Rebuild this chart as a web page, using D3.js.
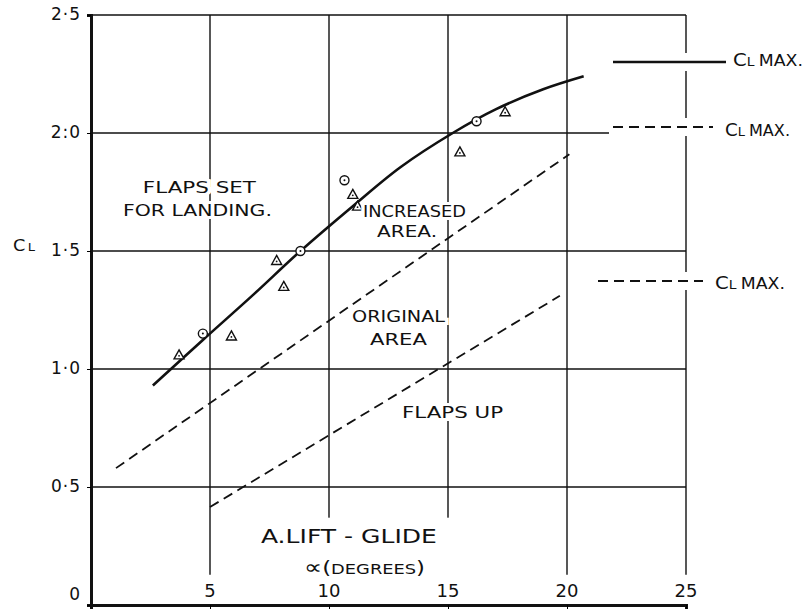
<!DOCTYPE html>
<html>
<head>
<meta charset="utf-8">
<script src="https://cdn.jsdelivr.net/npm/d3@7"></script>
<style>
  body { margin: 0; background: #fff; }
  text { font-family: "DejaVu Sans", sans-serif; fill: #111; }
</style>
</head>
<body>
<div id="chart"></div>
<script>
// tick values and labels
var xTicks = [5, 10, 15, 20, 25];
var yTicks = [0, 0.5, 1, 1.5, 2, 2.5];
var yTickLabels = ["0", "0·5", "1·0", "1·5", "2:0", "2·5"];

// flaps set for landing (solid curve)
var landingCurve = [[2.6, 0.93], [4.7, 1.123], [6.8, 1.313], [8.8, 1.5], [11, 1.69],
    [13, 1.855], [15.2, 2.0], [17, 2.1], [19, 2.185], [20.7, 2.24]];
// increased area and flaps up (dashed)
var increasedArea = [[1.05, 0.58], [20.1, 1.91]];
var flapsUp = [[5.0, 0.415], [19.7, 1.31]];
// test points
var triangles = [[3.7, 1.06], [5.9, 1.14], [7.8, 1.46], [8.1, 1.35], [11.0, 1.74],
    [11.2, 1.69], [15.5, 1.92], [17.4, 2.09]];
var circles = [[4.7, 1.15], [8.8, 1.5], [10.65, 1.8], [16.2, 2.05]];

// set the dimensions and margins of the graph
var margin = { top: 15, right: 124, bottom: 8, left: 91 },
    width = 810 - margin.left - margin.right,
    height = 613 - margin.top - margin.bottom;

var svg = d3.select("#chart")
    .append("svg")
    .attr("width", 810)
    .attr("height", 613);

var g = svg.append("g")
    .attr("transform", "translate(" + margin.left + "," + margin.top + ")");

var x = d3.scaleLinear().domain([0, 25]).range([0, width]);
var y = d3.scaleLinear().domain([0, 2.5]).range([height, 0]);

// gridlines (vertical ones stop above the tick labels)
g.selectAll(".vgrid")
    .data(xTicks)
    .enter()
    .append("line")
    .attr("x1", function (d) { return x(d) })
    .attr("x2", function (d) { return x(d) })
    .attr("y1", y(2.5))
    .attr("y2", y(0.128))
    .attr("stroke", "#111")
    .attr("stroke-width", 1.4);

g.selectAll(".hgrid")
    .data(yTicks.filter(function (d) { return d > 0 }))
    .enter()
    .append("line")
    .attr("x1", 0)
    .attr("x2", width)
    .attr("y1", function (d) { return y(d) })
    .attr("y2", function (d) { return y(d) })
    .attr("stroke", "#111")
    .attr("stroke-width", 1.4);

// blank space for the title block
g.append("rect")
    .attr("x", x(6.9))
    .attr("y", y(0.37))
    .attr("width", x(15.6) - x(6.9))
    .attr("height", y(0.1) - y(0.37))
    .attr("fill", "#fff");

// axes
var yAxis = g.append("g")
    .call(d3.axisLeft(y)
        .tickValues(yTicks)
        .tickSize(4)
        .tickPadding(6)
        .tickFormat(function (d, i) { return yTickLabels[i] }));
yAxis.select(".domain").attr("stroke-width", 3).attr("stroke", "#111");
yAxis.selectAll("text")
    .style("font-size", "17px")
    .style("letter-spacing", "1px")
    .attr("fill", "#111")
    .attr("dy", function (d) { return d === 0 ? "-0.3em" : "0.25em" });

var xAxis = g.append("g")
    .attr("transform", "translate(0," + height + ")")
    .call(d3.axisBottom(x).tickValues(xTicks).tickSize(4).tickFormat(""));
xAxis.select(".domain").attr("stroke-width", 3).attr("stroke", "#111");

// x tick labels sit inside the plot
g.selectAll(".xlab")
    .data(xTicks)
    .enter()
    .append("text")
    .attr("x", function (d) { return x(d) })
    .attr("y", height - 8)
    .attr("text-anchor", "middle")
    .style("font-size", "18px")
    .text(function (d) { return d });

// CL axis label
var cl = svg.append("text").attr("x", 13).attr("y", 251)
    .attr("textLength", 22).attr("lengthAdjust", "spacingAndGlyphs");
cl.append("tspan").style("font-size", "15px").text("C");
cl.append("tspan").style("font-size", "11px").attr("dx", 2).text("L");

// lines
var line = d3.line()
    .x(function (d) { return x(d[0]) })
    .y(function (d) { return y(d[1]) });

g.append("path")
    .datum(landingCurve)
    .attr("fill", "none")
    .attr("stroke", "#111")
    .attr("stroke-width", 2.6)
    .attr("d", line.curve(d3.curveCatmullRom));

[increasedArea, flapsUp].forEach(function (s) {
    g.append("path")
        .datum(s)
        .attr("fill", "none")
        .attr("stroke", "#111")
        .attr("stroke-width", 1.8)
        .attr("stroke-dasharray", "10,6")
        .attr("d", d3.line()
            .x(function (d) { return x(d[0]) })
            .y(function (d) { return y(d[1]) }));
});

// triangle points
var tri = g.selectAll(".tri")
    .data(triangles)
    .enter()
    .append("g")
    .attr("transform", function (d) { return "translate(" + x(d[0]) + "," + y(d[1]) + ")" });
tri.append("path")
    .attr("d", "M0,-5L5,4L-5,4Z")
    .attr("fill", "#fff")
    .attr("stroke", "#111")
    .attr("stroke-width", 1.4);
tri.append("circle").attr("cy", 1).attr("r", 0.9).attr("fill", "#111");

// circle points
var cir = g.selectAll(".cir")
    .data(circles)
    .enter()
    .append("g")
    .attr("transform", function (d) { return "translate(" + x(d[0]) + "," + y(d[1]) + ")" });
cir.append("circle")
    .attr("r", 4.5)
    .attr("fill", "#fff")
    .attr("stroke", "#111")
    .attr("stroke-width", 1.4);
cir.append("circle").attr("r", 1).attr("fill", "#111");

// annotations (x start, baseline, length in px)
var notes = [
    { t: "FLAPS SET", x: 2.18, y: 1.746, len: 113, s: 15 },
    { t: "FOR LANDING.", x: 1.34, y: 1.648, len: 149, s: 15 },
    { t: "INCREASED", x: 11.43, y: 1.644, len: 103, s: 15 },
    { t: "AREA.", x: 12.02, y: 1.559, len: 60, s: 15 },
    { t: "ORIGINAL", x: 10.97, y: 1.199, len: 93, s: 15 },
    { t: "AREA", x: 11.72, y: 1.102, len: 57, s: 15 },
    { t: "FLAPS UP", x: 13.07, y: 0.792, len: 101, s: 15 },
    { t: "A.LIFT - GLIDE", x: 7.14, y: 0.263, len: 176, s: 19 }
];
g.selectAll(".note")
    .data(notes)
    .enter()
    .append("text")
    .attr("x", function (d) { return x(d.x) })
    .attr("y", function (d) { return y(d.y) })
    .attr("textLength", function (d) { return d.len })
    .attr("lengthAdjust", "spacingAndGlyphs")
    .style("font-size", function (d) { return d.s + "px" })
    .style("stroke", "#fff")
    .style("stroke-width", 6)
    .style("paint-order", "stroke")
    .text(function (d) { return d.t });

var deg = g.append("text")
    .attr("x", x(8.95))
    .attr("y", y(0.13))
    .attr("textLength", 121)
    .attr("lengthAdjust", "spacingAndGlyphs");
deg.append("tspan").style("font-size", "20px").text("∝");
deg.append("tspan").style("font-size", "18px").text("(");
deg.append("tspan").style("font-size", "14px").text("DEGREES");
deg.append("tspan").style("font-size", "18px").text(")");

// legend on the right
var legend = [
    { x1: 613, x2: 726, y: 62, dash: null, w: 2.6, tx: 733, ty: 66, len: 70 },
    { x1: 613, x2: 713, y: 127, dash: "10,6", w: 1.8, tx: 725, ty: 136, len: 65 },
    { x1: 598, x2: 703, y: 281, dash: "10,6", w: 1.8, tx: 715, ty: 289, len: 70 }
];
legend.forEach(function (l) {
    svg.append("line")
        .attr("x1", l.x1 - 4).attr("x2", l.x2)
        .attr("y1", l.y).attr("y2", l.y)
        .attr("stroke", "#fff")
        .attr("stroke-width", 18);
    svg.append("line")
        .attr("x1", l.x1).attr("x2", l.x2)
        .attr("y1", l.y).attr("y2", l.y)
        .attr("stroke", "#111")
        .attr("stroke-width", l.w)
        .attr("stroke-dasharray", l.dash);
    var t = svg.append("text").attr("x", l.tx).attr("y", l.ty)
        .attr("textLength", l.len).attr("lengthAdjust", "spacingAndGlyphs");
    t.append("tspan").style("font-size", "17px").text("C");
    t.append("tspan").style("font-size", "12px").text("L ");
    t.append("tspan").style("font-size", "15px").text("MAX.");
});
</script>
</body>
</html>
